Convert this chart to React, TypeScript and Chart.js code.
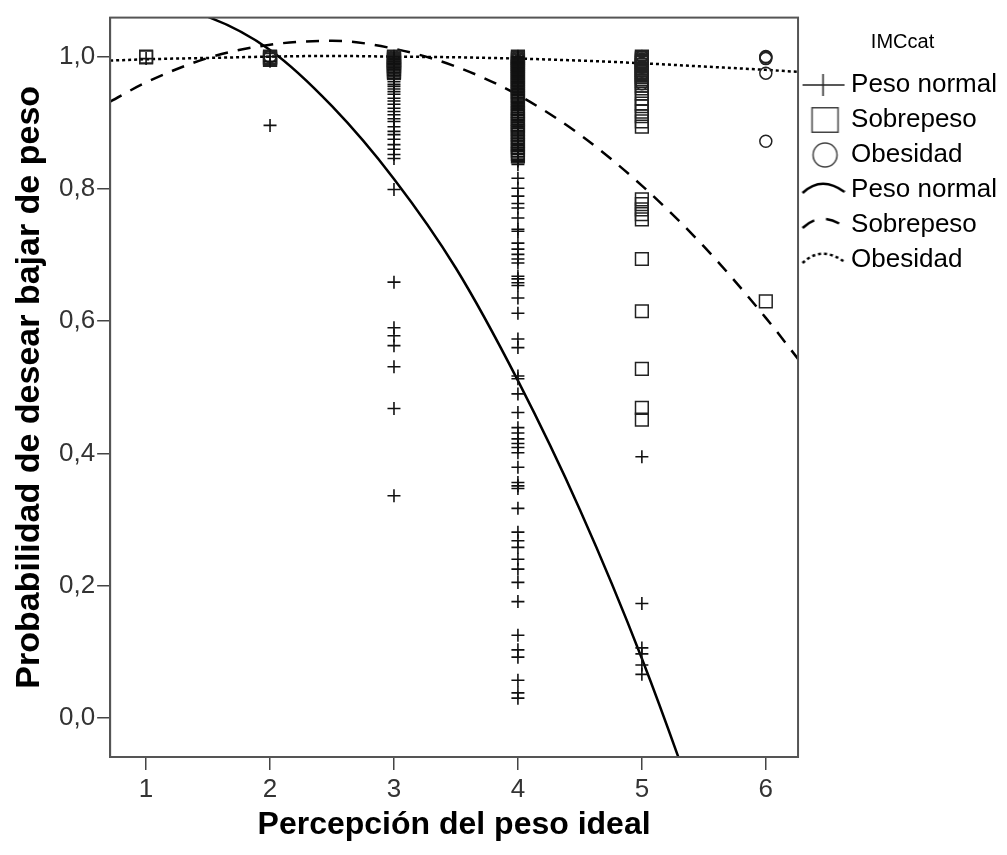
import React, { useEffect, useRef } from 'react';
import { Chart, registerables } from 'chart.js';

Chart.register(...registerables);

const FONT = "'Liberation Sans', Arial, sans-serif";

const categories = [1, 2, 3, 4, 5, 6];
const xTicks = [1, 2, 3, 4, 5, 6];
const yTicks = [0, 0.2, 0.4, 0.6, 0.8, 1.0];

// observed values, one list per category (1..6)
const pesoNormal: number[][] = [
    [0.997],
    [1.0, 0.993, 0.896],
    [1.0, 0.998, 0.996, 0.993, 0.99, 0.988, 0.984, 0.981, 0.98, 0.976, 0.972, 0.967, 0.962, 0.958, 0.955,
        0.951, 0.947, 0.943, 0.937, 0.933, 0.928, 0.922, 0.917, 0.912, 0.906, 0.902, 0.894, 0.887, 0.882,
        0.875, 0.867, 0.86, 0.852, 0.846, 0.799, 0.659, 0.59, 0.578, 0.563, 0.531, 0.468, 0.336],
    [1.0, 0.999, 0.997, 0.995, 0.993, 0.991, 0.99, 0.988, 0.986, 0.984, 0.982, 0.98, 0.978, 0.976, 0.974,
        0.972, 0.97, 0.968, 0.966, 0.963, 0.961, 0.959, 0.957, 0.955, 0.952, 0.95, 0.948, 0.946, 0.943,
        0.941, 0.938, 0.936, 0.933, 0.931, 0.929, 0.926, 0.924, 0.921, 0.919, 0.916, 0.913, 0.911, 0.908,
        0.905, 0.903, 0.9, 0.897, 0.894, 0.891, 0.888, 0.886, 0.883, 0.88, 0.877, 0.874, 0.871, 0.868,
        0.865, 0.862, 0.859, 0.857, 0.854, 0.852, 0.849, 0.845, 0.842, 0.837, 0.816, 0.801, 0.789, 0.778,
        0.771, 0.756, 0.739, 0.736, 0.718, 0.709, 0.701, 0.694, 0.688, 0.668, 0.664, 0.658, 0.654, 0.635,
        0.612, 0.573, 0.56, 0.517, 0.513, 0.49, 0.462, 0.439, 0.431, 0.422, 0.415, 0.409, 0.401, 0.379,
        0.356, 0.351, 0.347, 0.317, 0.281, 0.268, 0.258, 0.24, 0.225, 0.205, 0.176, 0.125, 0.103, 0.092,
        0.057, 0.038, 0.03],
    [0.395, 0.173, 0.106, 0.097, 0.08, 0.066],
    [],
];

const sobrepeso: number[][] = [
    [1.0, 0.999],
    [1.0, 0.999, 0.998, 0.996, 0.995],
    [1.0, 0.999, 0.997, 0.995, 0.994, 0.992, 0.99, 0.988, 0.986, 0.984, 0.981, 0.979, 0.977, 0.975],
    [1.0, 0.998, 0.996, 0.994, 0.991, 0.989, 0.986, 0.984, 0.981, 0.978, 0.975, 0.972, 0.969, 0.966, 0.963,
        0.96, 0.957, 0.954, 0.951, 0.947, 0.944, 0.941, 0.938, 0.933, 0.929, 0.922, 0.918, 0.915, 0.911,
        0.906, 0.902, 0.898, 0.894, 0.89, 0.886, 0.882, 0.878, 0.872, 0.867, 0.863, 0.858, 0.853, 0.849],
    [1.0, 0.998, 0.996, 0.994, 0.992, 0.99, 0.987, 0.985, 0.982, 0.98, 0.977, 0.974, 0.972, 0.969, 0.966,
        0.963, 0.96, 0.956, 0.952, 0.944, 0.937, 0.929, 0.925, 0.917, 0.91, 0.902, 0.894, 0.784, 0.777,
        0.769, 0.762, 0.754, 0.694, 0.615, 0.528, 0.469, 0.451],
    [0.63],
];

const obesidad: number[][] = [
    [],
    [1.0],
    [1.0, 0.995],
    [1.0, 0.997, 0.993, 0.988],
    [1.0, 0.996, 0.99, 0.984, 0.974, 0.959],
    [1.0, 0.999, 0.997, 0.975, 0.872],
];

// fitted curves
const curveX = [0.71, 1, 1.5, 2, 2.5, 3, 3.5, 4, 4.5, 5, 5.5, 6, 6.26];
const fitPesoNormal = [1.08, 1.08, 1.06, 1.01, 0.925, 0.815, 0.68, 0.51, 0.315, 0.09, -0.17, -0.46, -0.62];
const fitSobrepeso = [0.932, 0.961, 0.998, 1.018, 1.024, 1.012, 0.985, 0.942, 0.882, 0.805, 0.713, 0.605, 0.543];
const fitObesidad = [0.994, 0.996, 0.998, 1.0, 1.001, 1.0, 0.999, 0.997, 0.994, 0.99, 0.985, 0.98, 0.977];

const legendTitle = 'IMCcat';
const legendNames = ['Peso normal', 'Sobrepeso', 'Obesidad', 'Peso normal', 'Sobrepeso', 'Obesidad'];

const toPoints = (groups: number[][]) =>
    groups.flatMap((ys, i) => ys.map(y => ({ x: categories[i], y })));

const toCurve = (ys: number[]) => ys.map((y, i) => ({ x: curveX[i], y }));

const makeIcon = (draw: (ctx: CanvasRenderingContext2D) => void) => {
    const c = document.createElement('canvas');
    c.width = 46;
    c.height = 26;
    const ctx = c.getContext('2d');
    if (ctx) draw(ctx);
    return c;
};

const arcIcon = (dash: number[]) => makeIcon(ctx => {
    ctx.strokeStyle = '#000';
    ctx.lineWidth = 2.5;
    ctx.setLineDash(dash);
    ctx.beginPath();
    ctx.moveTo(3, 16);
    ctx.quadraticCurveTo(22, -2, 45, 15);
    ctx.stroke();
});

const framePlugin = {
    id: 'frame',
    afterDraw(chart: Chart) {
        const { ctx, chartArea: a } = chart;
        ctx.save();
        ctx.strokeStyle = '#555';
        ctx.lineWidth = 2;
        ctx.strokeRect(a.left, a.top, a.right - a.left, a.bottom - a.top);
        ctx.restore();
    }
};

const App = () => {
    const chartRef = useRef<HTMLCanvasElement>(null);
    const chartInstance = useRef<Chart | null>(null);

    useEffect(() => {
        if (!chartRef.current) return;
        const ctx = chartRef.current.getContext('2d');
        if (!ctx) return;

        if (chartInstance.current) {
            chartInstance.current.destroy();
        }

        const icons = [
            makeIcon(c => {
                c.strokeStyle = '#222';
                c.lineWidth = 1.5;
                c.beginPath();
                c.moveTo(3, 13); c.lineTo(45, 13);
                c.moveTo(23.5, 2); c.lineTo(23.5, 24);
                c.stroke();
            }),
            makeIcon(c => {
                c.strokeStyle = '#444';
                c.lineWidth = 1.5;
                c.strokeRect(12.5, 0.75, 26, 24.5);
            }),
            makeIcon(c => {
                c.strokeStyle = '#444';
                c.lineWidth = 1.5;
                c.beginPath();
                c.arc(25.5, 13, 12, 0, Math.PI * 2);
                c.stroke();
            }),
            arcIcon([]),
            arcIcon([14, 12]),
            arcIcon([3, 3]),
        ];

        chartInstance.current = new Chart(ctx, {
            type: 'scatter',
            data: {
                datasets: [
                    {
                        label: legendNames[0],
                        data: toPoints(pesoNormal),
                        pointStyle: 'cross',
                        pointRadius: 6.5,
                        borderColor: '#111',
                        borderWidth: 1.6,
                        backgroundColor: 'transparent',
                    },
                    {
                        label: legendNames[1],
                        data: toPoints(sobrepeso),
                        pointStyle: 'rect',
                        pointRadius: 9,
                        borderColor: '#222',
                        borderWidth: 1.5,
                        backgroundColor: 'transparent',
                    },
                    {
                        label: legendNames[2],
                        data: toPoints(obesidad),
                        pointStyle: 'circle',
                        pointRadius: 6,
                        borderColor: '#222',
                        borderWidth: 1.5,
                        backgroundColor: 'transparent',
                    },
                    {
                        label: legendNames[3],
                        data: toCurve(fitPesoNormal),
                        showLine: true,
                        pointRadius: 0,
                        borderColor: '#000',
                        borderWidth: 2.5,
                        cubicInterpolationMode: 'monotone',
                    },
                    {
                        label: legendNames[4],
                        data: toCurve(fitSobrepeso),
                        showLine: true,
                        pointRadius: 0,
                        borderColor: '#000',
                        borderWidth: 2.5,
                        borderDash: [13, 10],
                        cubicInterpolationMode: 'monotone',
                    },
                    {
                        label: legendNames[5],
                        data: toCurve(fitObesidad),
                        showLine: true,
                        pointRadius: 0,
                        borderColor: '#000',
                        borderWidth: 2.5,
                        borderDash: [3, 3],
                        cubicInterpolationMode: 'monotone',
                    },
                ]
            },
            options: {
                responsive: true,
                maintainAspectRatio: false,
                animation: false,
                layout: { padding: { top: 16, right: 0, bottom: 0, left: 0 } },
                scales: {
                    x: {
                        type: 'linear',
                        min: 0.71,
                        max: 6.26,
                        afterBuildTicks: (axis: any) => { axis.ticks = xTicks.map(v => ({ value: v })); },
                        border: { color: '#555', width: 2 },
                        grid: { drawOnChartArea: false, drawTicks: true, tickLength: 13, color: '#444', lineWidth: 1.5 },
                        ticks: {
                            padding: 6.5,
                            color: '#333',
                            font: { family: FONT, size: 26, lineHeight: 1 },
                        },
                        title: {
                            display: true,
                            text: 'Percepción del peso ideal',
                            color: '#000',
                            font: { family: FONT, size: 32, weight: 'bold', lineHeight: 1 },
                            padding: { top: 0, bottom: 14 },
                        },
                    },
                    y: {
                        type: 'linear',
                        min: -0.059,
                        max: 1.059,
                        afterBuildTicks: (axis: any) => { axis.ticks = yTicks.map(v => ({ value: v })); },
                        border: { color: '#555', width: 2 },
                        grid: { drawOnChartArea: false, drawTicks: true, tickLength: 13, color: '#444', lineWidth: 1.5 },
                        ticks: {
                            padding: 2,
                            color: '#333',
                            font: { family: FONT, size: 26 },
                            callback: (v: any) => Number(v).toFixed(1).replace('.', ','),
                        },
                        title: {
                            display: true,
                            text: 'Probabilidad de desear bajar de peso',
                            color: '#000',
                            font: { family: FONT, size: 34, weight: 'bold', lineHeight: 1 },
                            padding: { top: 13, bottom: 10 },
                        },
                    },
                },
                plugins: {
                    tooltip: { enabled: false },
                    legend: {
                        display: true,
                        position: 'right',
                        align: 'start',
                        title: {
                            display: true,
                            text: legendTitle,
                            color: '#000',
                            font: { family: FONT, size: 20 },
                            padding: { top: 16, bottom: 7 },
                        },
                        labels: {
                            usePointStyle: true,
                            pointStyleWidth: 31,
                            padding: 9,
                            color: '#000',
                            font: { family: FONT, size: 26 },
                            generateLabels: () => legendNames.map((name, i) => ({
                                text: name,
                                pointStyle: icons[i],
                                fillStyle: 'transparent',
                                strokeStyle: 'transparent',
                                lineWidth: 1,
                                hidden: false,
                                datasetIndex: i,
                            })),
                        },
                    },
                },
            },
            plugins: [framePlugin],
        } as any);

        return () => {
            if (chartInstance.current) {
                chartInstance.current.destroy();
                chartInstance.current = null;
            }
        };
    }, []);

    return (
        <div style={{ position: 'fixed', left: 0, top: 0, width: '1007px', height: '855px', background: '#fff' }}>
            <canvas ref={chartRef}></canvas>
        </div>
    );
};

export default App;
